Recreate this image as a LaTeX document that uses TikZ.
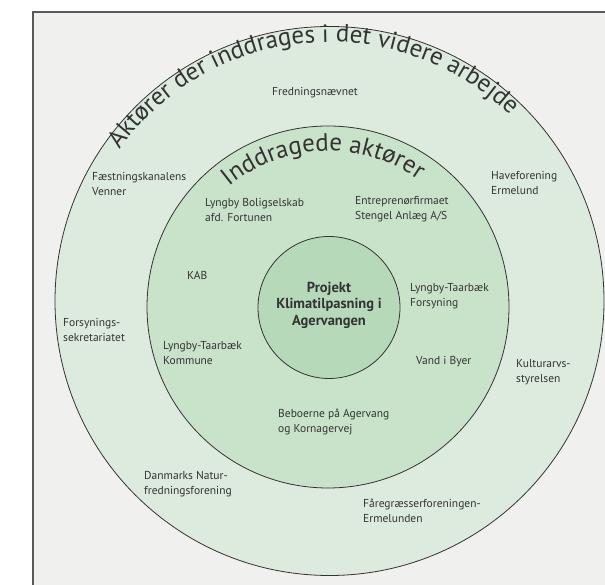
\documentclass[tikz,border=0pt]{standalone}
\usepackage{fontspec}
\setmainfont{PT Sans}
\usetikzlibrary{decorations.text}
\definecolor{paper}{HTML}{F0F0EF}
\definecolor{ringout}{HTML}{DDEADE}
\definecolor{ringmid}{HTML}{C9E3CB}
\definecolor{ringin}{HTML}{B6D9B9}
\definecolor{ink}{HTML}{333333}
\begin{document}
\begin{tikzpicture}[x=1pt,y=1pt,
    item/.style={anchor=base west,align=left,inner sep=0pt,text=ink,
      font=\fontsize{11.5}{15}\selectfont},
    ring/.style={draw=black!80,line width=0.8pt},
    arctitle/.style={decorate,decoration={text along path,text align=center,
      text color=ink,text={|\fontsize{25}{25}\selectfont|#1}}}]
  \useasboundingbox (0,0) rectangle (605,585);
  \clip (0,0) rectangle (605,585);
  \draw[gray!70!black,line width=1.5pt,fill=paper] (33,573) rectangle (640,-20);
  \draw[ring,fill=ringout] (329.5,284) circle (274.5);
  \draw[ring,fill=ringmid] (328,278) circle (181);
  \draw[ring,fill=ringin] (329,277.5) circle (71);
  \path[arctitle={Aktører der inddrages i det videre arbejde}]
    (329.5,284) ++(155:259) arc[start angle=155,end angle=35,radius=259];
  \path[arctitle={Inddragede aktører}]
    (328,278) ++(152:156) arc[start angle=152,end angle=32,radius=156];
  \path
    (329,280) node[align=center,inner sep=0pt,text=ink,
      font=\fontsize{14.5}{16.5}\selectfont\bfseries] (proj)
      {Projekt\\Klimatilpasning i\\Agervangen}
    (272,489) node[item] (fred) {Fredningsnævnet}
    (92,389) node[item] (faest) {Fæstningskanalens\\Venner}
    (491,390) node[item] (have) {Haveforening\\Ermelund}
    (205,363) node[item] (lbs) {Lyngby Boligselskab\\afd. Fortunen}
    (355,365) node[item] (entr) {Entreprenørfirmaet\\Stengel Anlæg A/S}
    (187,305) node[item] (kab) {KAB}
    (63,243) node[item] (fors) {Forsynings-\\sekretariatet}
    (163,220) node[item] (ltk) {Lyngby-Taarbæk\\Kommune}
    (410,278) node[item] (ltf) {Lyngby-Taarbæk\\Forsyning}
    (416,220) node[item] (vand) {Vand i Byer}
    (516,202) node[item] (kult) {Kulturarvs-\\styrelsen}
    (278,152) node[item] (bebo) {Beboerne på Agervang\\og Kornagervej}
    (144,90) node[item] (dnf) {Danmarks Natur-\\fredningsforening}
    (363,62) node[item] (faar) {Fåregræsserforeningen-\\Ermelunden};
\end{tikzpicture}
\end{document}
